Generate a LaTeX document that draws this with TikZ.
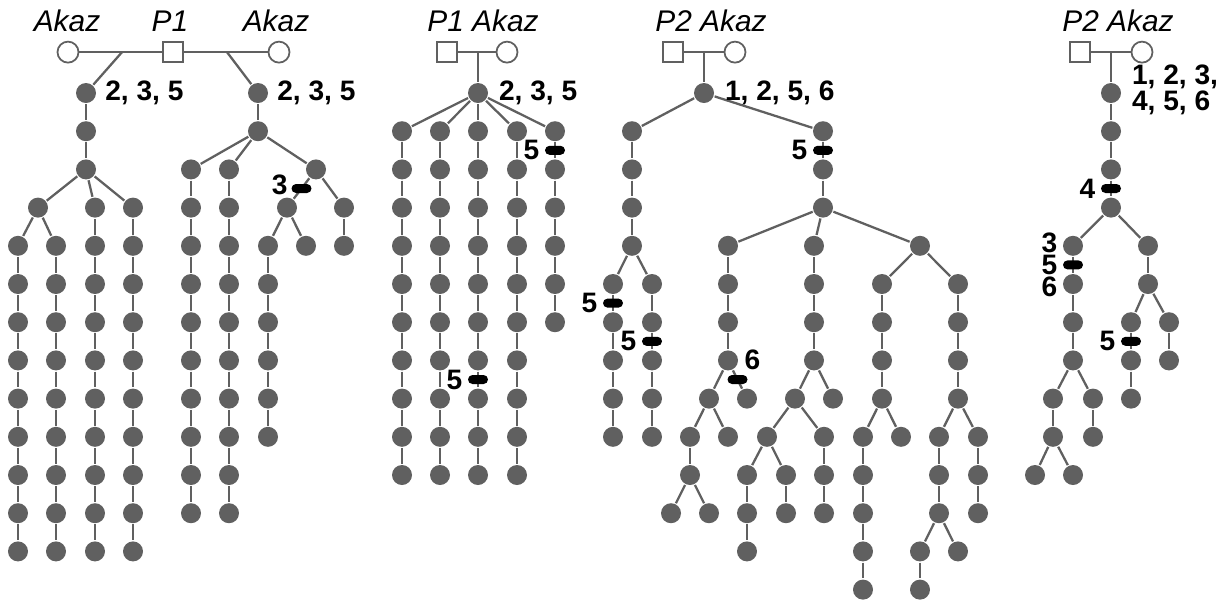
\documentclass[tikz,border=0pt]{standalone}
\usepackage{fontspec}
\setmainfont{Liberation Sans}
\usetikzlibrary{positioning,calc}

\definecolor{lingray}{HTML}{606060}

\tikzstyle{ind} = [circle,fill=lingray,inner sep=0pt,minimum size=0.4cm]
\tikzstyle{female} = [circle,draw=lingray,fill=white,line width=1pt,inner sep=0pt,minimum size=0.42cm]
\tikzstyle{male} = [rectangle,draw=lingray,fill=white,line width=1pt,inner sep=0pt,minimum size=0.4cm]
\tikzstyle{mut} = [rectangle,rounded corners=0.09cm,fill=black,inner sep=0pt,minimum width=0.4cm,minimum height=0.18cm]
\tikzstyle{num} = [text=black,inner sep=1pt,font=\bfseries\fontsize{16}{12.5}\selectfont]
\tikzstyle{kin} = [text=black,inner sep=0pt,anchor=base,font=\itshape\fontsize{17}{17}\selectfont]

\begin{document}
\begin{tikzpicture}[x=0.2mm,y=-7.64mm,line width=1.3pt,lingray]
\useasboundingbox (0,-2.4346) rectangle (1228,13.298);

% parents
\node[female] (f1) at (68,-1.07) {};
\node[male] (p1) at (173,-1.07) {};
\node[female] (f2) at (279,-1.07) {};
\coordinate (ja) at (122,-1.07);
\coordinate (jb) at (227,-1.07);
\node[male] (p2) at (447,-1.07) {};
\node[female] (f3) at (507,-1.07) {};
\coordinate (jc) at (478,-1.07);
\node[male] (p3) at (673,-1.07) {};
\node[female] (f4) at (735,-1.07) {};
\coordinate (jd) at (704,-1.07);
\node[male] (p4) at (1080,-1.07) {};
\node[female] (f5) at (1142,-1.07) {};
\coordinate (je) at (1111,-1.07);

\node[kin] (t1) at (67,-1.6) {Akaz};
\node[kin] (t2) at (170,-1.6) {P1};
\node[kin] (t3) at (276,-1.6) {Akaz};
\node[kin] (t4) at (483,-1.6) {P1 Akaz};
\node[kin] (t5) at (711,-1.6) {P2 Akaz};
\node[kin] (t6) at (1118,-1.6) {P2 Akaz};

% offspring lines: name/x/first row/last row
\foreach \ch/\px/\ya/\yb in {A1/86/0/2, A2/38/3/3, A3/95/3/12, A4/133/3/12,
    A5/18/4/12, A6/56/4/12,
    B1/258/0/1, B2/191/2/11, B3/229/2/11, B4/316/2/2, B5/287/3/3,
    B6/344/3/4, B7/268/4/9, B8/306/4/4,
    C1/478/0/0, C2/402/1/10, C3/440/1/10, C4/478/1/10, C5/517/1/10, C6/555/1/6,
    D1/704/0/0, D2/632/1/4, D3/823/1/3, D4/613/5/9, D5/652/5/9,
    D6/728/4/7, D7/814/4/7, D8/920/4/4, D9/709/8/8, D10/747/8/8,
    D11/690/9/10, D12/728/9/9, D13/671/11/11, D14/709/11/11,
    D15/795/8/8, D16/833/8/8, D17/767/9/9, D18/824/9/11,
    D19/747/10/12, D20/786/10/11, D21/882/5/8, D22/958/5/8,
    D23/863/9/13, D24/901/9/9, D25/939/9/11, D26/978/9/11,
    D27/920/12/13, D28/958/12/12,
    E1/1111/0/3, E2/1073/4/7, E3/1148/4/5, E4/1053/8/9, E5/1093/8/9,
    E6/1035/10/10, E7/1073/10/10, E8/1131/6/8, E9/1169/6/7}
{
  \foreach \r in {\ya,...,\yb}
    \node[ind] (\ch-\r) at (\px,\r) {};
  \foreach \r in {\ya,...,\yb}
    {\ifnum\r<\yb \pgfmathtruncatemacro\s{\r+1}\draw (\ch-\r) -- (\ch-\s);\fi}
}

% family 1
\draw (f1) -- (p1) -- (f2);
\draw (ja) -- (A1-0);
\draw (jb) -- (B1-0);
\draw (A1-2) -- (A2-3);
\draw (A1-2) -- (A3-3);
\draw (A1-2) -- (A4-3);
\draw (A2-3) -- (A5-4);
\draw (A2-3) -- (A6-4);
\draw (B1-1) -- (B2-2);
\draw (B1-1) -- (B3-2);
\draw (B1-1) -- (B4-2);
\draw (B4-2) -- (B5-3);
\draw (B4-2) -- (B6-3);
\draw (B5-3) -- (B7-4);
\draw (B5-3) -- (B8-4);

% family 2
\draw (p2) -- (f3);
\draw (jc) -- (C1-0);
\draw (C1-0) -- (C2-1);
\draw (C1-0) -- (C3-1);
\draw (C1-0) -- (C4-1);
\draw (C1-0) -- (C5-1);
\draw (C1-0) -- (C6-1);

% family 3
\draw (p3) -- (f4);
\draw (jd) -- (D1-0);
\draw (D1-0) -- (D2-1);
\draw (D1-0) -- (D3-1);
\draw (D2-4) -- (D4-5);
\draw (D2-4) -- (D5-5);
\draw (D3-3) -- (D6-4);
\draw (D3-3) -- (D7-4);
\draw (D3-3) -- (D8-4);
\draw (D6-7) -- (D9-8);
\draw (D6-7) -- (D10-8);
\draw (D9-8) -- (D11-9);
\draw (D9-8) -- (D12-9);
\draw (D11-10) -- (D13-11);
\draw (D11-10) -- (D14-11);
\draw (D7-7) -- (D15-8);
\draw (D7-7) -- (D16-8);
\draw (D15-8) -- (D17-9);
\draw (D15-8) -- (D18-9);
\draw (D17-9) -- (D19-10);
\draw (D17-9) -- (D20-10);
\draw (D8-4) -- (D21-5);
\draw (D8-4) -- (D22-5);
\draw (D21-8) -- (D23-9);
\draw (D21-8) -- (D24-9);
\draw (D22-8) -- (D25-9);
\draw (D22-8) -- (D26-9);
\draw (D25-11) -- (D27-12);
\draw (D25-11) -- (D28-12);

% family 4
\draw (p4) -- (f5);
\draw (je) -- (E1-0);
\draw (E1-3) -- (E2-4);
\draw (E1-3) -- (E3-4);
\draw (E2-7) -- (E4-8);
\draw (E2-7) -- (E5-8);
\draw (E4-9) -- (E6-10);
\draw (E4-9) -- (E7-10);
\draw (E3-5) -- (E8-6);
\draw (E3-5) -- (E9-6);

% genotypes
\node[num,right=3pt of A1-0] (l1) {2, 3, 5};
\node[num,right=3pt of B1-0] (l2) {2, 3, 5};
\node[num,right=4pt of C1-0] (l3) {2, 3, 5};
\node[num,right=4pt of D1-0] (l4) {1, 2, 5, 6};
\node[num,align=left,right=4pt of E1-0,yshift=2pt] (l5) {1, 2, 3,\\4, 5, 6};

% mutations
\node[mut] (m1) at ($(B4-2)!0.5!(B5-3)$) {};
\node[num,left=0pt of m1,yshift=2pt] (k1) {3};
\node[mut] (m2) at ($(C6-1)!0.5!(C6-2)$) {};
\node[num,left=1pt of m2] (k2) {5};
\node[mut] (m3) at ($(C4-7)!0.5!(C4-8)$) {};
\node[num,left=1pt of m3] (k3) {5};
\node[mut] (m4) at ($(D3-1)!0.5!(D3-2)$) {};
\node[num,left=1pt of m4] (k4) {5};
\node[mut] (m5) at ($(D4-5)!0.5!(D4-6)$) {};
\node[num,left=1pt of m5] (k5) {5};
\node[mut] (m6) at ($(D5-6)!0.5!(D5-7)$) {};
\node[num,left=1pt of m6] (k6) {5};
\node[mut] (m7) at ($(D6-7)!0.5!(D10-8)$) {};
\node[num,above right=0.02cm and -0.14cm of m7] (k7) {6};
\node[mut] (m8) at ($(E1-2)!0.5!(E1-3)$) {};
\node[num,left=1pt of m8] (k8) {4};
\node[mut] (m9) at ($(E2-4)!0.5!(E2-5)$) {};
\node[num,align=center,left=1pt of m9] (k9) {3\\5\\6};
\node[mut] (m10) at ($(E8-6)!0.5!(E8-7)$) {};
\node[num,left=1pt of m10] (k10) {5};
\end{tikzpicture}
\end{document}
